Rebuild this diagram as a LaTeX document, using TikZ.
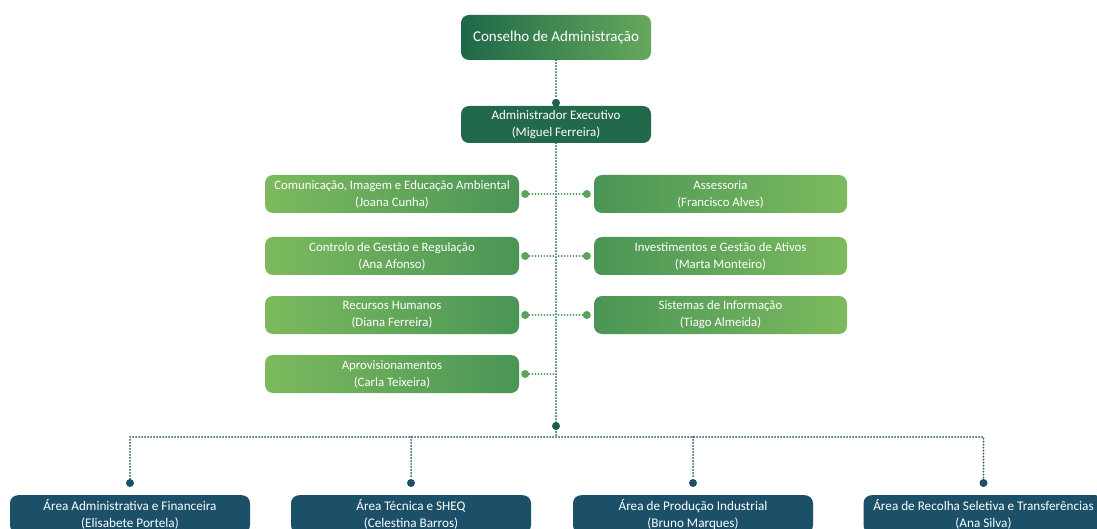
\documentclass[tikz,border=0pt]{standalone}
\usepackage{fontspec}
\setmainfont{Carlito}
\definecolor{topL}{HTML}{1E6848}
\definecolor{topR}{HTML}{66A85C}
\definecolor{aeC}{HTML}{22684B}
\definecolor{lgL}{HTML}{7DBA5E}
\definecolor{lgR}{HTML}{4A9556}
\definecolor{teal}{HTML}{1B5068}
\definecolor{spineC}{HTML}{1F5E4A}
\definecolor{sideC}{HTML}{4E9A5A}
\definecolor{sideDot}{HTML}{5AA55A}
\definecolor{busC}{HTML}{2A5668}
\begin{document}
\begin{tikzpicture}[x=1pt,y=-1pt,
  boxbase/.style={rounded corners=8pt, text=white, align=center, inner sep=0pt},
  topbox/.style={boxbase, left color=topL, right color=topR, minimum width=190pt, minimum height=45pt, font=\fontsize{15}{18}\selectfont},
  aebox/.style={boxbase, fill=aeC, minimum width=190pt, minimum height=37pt, font=\fontsize{13}{17}\selectfont},
  lbox/.style={boxbase, left color=lgL, right color=lgR, minimum width=254pt, minimum height=38pt, font=\fontsize{12.8}{17}\selectfont},
  rbox/.style={boxbase, left color=lgR, right color=lgL, minimum width=253pt, minimum height=38pt, font=\fontsize{12.8}{17}\selectfont},
  bbox/.style={boxbase, fill=teal, minimum width=240pt, minimum height=38pt, font=\fontsize{13.2}{17}\selectfont},
  dotbase/.style={circle, inner sep=0pt, minimum size=8pt},
  gdot/.style={dotbase, fill=spineC},
  sdot/.style={dotbase, fill=sideDot},
  tdot/.style={dotbase, fill=teal},
  dotline/.style={line width=2pt, line cap=round, dash pattern=on 0pt off 3pt},
  spine/.style={dotline, draw=spineC},
  sideline/.style={dotline, draw=sideC},
  busline/.style={dotline, draw=busC},
]
\useasboundingbox (0,0) rectangle (1097,529);
\clip (0,0) rectangle (1097,529);
\fill[white] (0,0) rectangle (1097,529);

% boxes
\node[topbox] (ca) at (556,37.5) {Conselho de Administração};
\node[aebox] (ae) at (556,124.5) {Administrador Executivo\\(Miguel Ferreira)};

\node[lbox] (l1) at (392,194) {Comunicação, Imagem e Educação Ambiental\\(Joana Cunha)};
\node[lbox] (l2) at (392,256) {Controlo de Gestão e Regulação\\(Ana Afonso)};
\node[lbox] (l3) at (392,315) {Recursos Humanos\\(Diana Ferreira)};
\node[lbox] (l4) at (392,374) {Aprovisionamentos\\(Carla Teixeira)};

\node[rbox] (r1) at (720.5,194) {Assessoria\\(Francisco Alves)};
\node[rbox] (r2) at (720.5,256) {Investimentos e Gestão de Ativos\\(Marta Monteiro)};
\node[rbox] (r3) at (720.5,315) {Sistemas de Informação\\(Tiago Almeida)};

\node[bbox, anchor=north] (b1) at (130,495) {Área Administrativa e Financeira\\(Elisabete Portela)};
\node[bbox, anchor=north] (b2) at (411,495) {Área Técnica e SHEQ\\(Celestina Barros)};
\node[bbox, anchor=north] (b3) at (693,495) {Área de Produção Industrial\\(Bruno Marques)};
\node[bbox, anchor=north] (b4) at (983.5,495) {Área de Recolha Seletiva e Transferências\\(Ana Silva)};

% spine
\node[gdot] (dae) at ([yshift=3pt]ae.north) {};
\coordinate (hub0) at (556,426);
\draw[spine] (ca.south) -- (dae);
\draw[spine] (ae.south) -- (hub0);

% side connectors
\foreach \b in {l1,l2,l3,l4}{
  \node[sdot] (d\b) at ([xshift=6pt]\b.east) {};
  \draw[sideline] (d\b) -- (d\b -| hub0);
}
\foreach \b in {r1,r2,r3}{
  \node[sdot] (d\b) at ([xshift=-7pt]\b.west) {};
  \draw[sideline] (d\b) -- (d\b -| hub0);
}

% bus
\coordinate (bus) at (556,437);
\foreach \b in {b1,b2,b3,b4}{
  \node[tdot] (d\b) at ([yshift=12pt]\b.north) {};
  \coordinate (k\b) at (d\b |- bus);
}
\draw[busline] (hub0) -- (bus);
\draw[busline] (db1) -- (kb1) -- (kb4) -- (db4);
\draw[busline] (kb2) -- (db2);
\draw[busline] (kb3) -- (db3);
\node[gdot] (hub) at (hub0) {};
\end{tikzpicture}
\end{document}
